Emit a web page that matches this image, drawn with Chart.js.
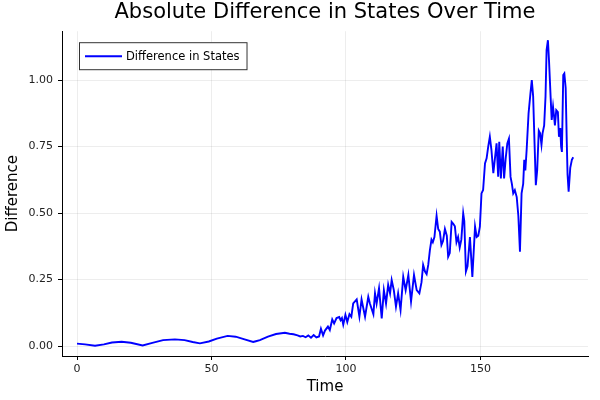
<!DOCTYPE html>
<html>
<head>
<meta charset="utf-8">
<script src="https://cdn.jsdelivr.net/npm/chart.js@4"></script>
<style>
  html, body { margin: 0; padding: 0; background: #fff; }
  #wrap { width: 600px; height: 400px; }
</style>
</head>
<body>
<div id="wrap"><canvas id="diffChart" width="600" height="400"></canvas></div>
<script>
const timeValues = [
    0, 3, 6.7, 10, 13, 16.6, 20, 24.4, 28, 32, 36.4, 40, 43, 45.7, 49, 52, 56, 59, 62, 65.5,
    66.5, 68, 71, 74, 77.3, 79, 80.5, 82, 83, 84, 85, 86, 87, 88, 89, 90, 90.7, 91.5, 92.2, 93.3,
    94, 94.9, 95.6, 96.5, 97.5, 98, 98.5, 99, 99.8, 100.5, 101.3, 102, 102.7, 104, 105, 105.8, 107.1, 108.3, 108.9, 110.2,
    110.8, 111.4, 112.3, 113.3, 114.1, 114.9, 115.7, 116.4, 117, 117.8, 118.6, 119.4, 120.3, 121.3, 122.2, 123.2, 124.2, 125.3, 126.3, 127.3,
    128.1, 128.7, 129.4, 130, 130.6, 131.2, 131.8, 132.3, 132.9, 133.7, 134.3, 134.9, 135.5, 136.1, 136.8, 137.5, 138, 138.6, 139.3, 139.9,
    140.5, 141.1, 141.7, 142.3, 142.9, 143.6, 144, 144.6, 145.2, 146.1, 147, 148, 148.6, 149.2, 149.8, 150.4, 151, 151.7, 152.3, 152.9,
    153.5, 154.1, 154.8, 155.4, 156, 156.6, 157, 157.6, 158.3, 158.8, 159.4, 160, 160.6, 161.2, 161.7, 162.2, 162.8, 163.5, 164.1, 164.7,
    165.3, 165.9, 166.3, 166.7, 167.2, 167.9, 168.6, 169.1, 169.6, 170.1, 170.6, 171.1, 171.7, 172.2, 172.7, 173.1, 173.7, 174.2, 174.6, 175.1,
    175.5, 176.1, 176.5, 177, 177.4, 177.7, 178.2, 178.8, 179.2, 179.7, 180, 180.3, 180.8, 181.2, 181.7, 182.1, 182.4, 182.8, 183.4, 184,
    184.5
];
const diffValues = [
    0.009, 0.006, 0.001, 0.006, 0.013, 0.016, 0.012, 0.002, 0.012, 0.022, 0.025, 0.022, 0.015, 0.010, 0.017, 0.028, 0.038, 0.035, 0.026, 0.015,
    0.018, 0.022, 0.035, 0.045, 0.050, 0.046, 0.044, 0.040, 0.036, 0.038, 0.033, 0.040, 0.031, 0.041, 0.032, 0.036, 0.065, 0.040, 0.058, 0.073,
    0.060, 0.100, 0.085, 0.105, 0.109, 0.097, 0.105, 0.080, 0.117, 0.090, 0.120, 0.110, 0.160, 0.175, 0.110, 0.175, 0.110, 0.185, 0.160, 0.120,
    0.198, 0.160, 0.217, 0.104, 0.210, 0.160, 0.230, 0.198, 0.248, 0.210, 0.148, 0.198, 0.135, 0.260, 0.210, 0.267, 0.167, 0.267, 0.210, 0.198,
    0.240, 0.305, 0.280, 0.270, 0.305, 0.360, 0.400, 0.390, 0.410, 0.490, 0.440, 0.430, 0.380, 0.395, 0.440, 0.415, 0.336, 0.350, 0.467, 0.460,
    0.450, 0.390, 0.410, 0.370, 0.400, 0.499, 0.470, 0.280, 0.300, 0.410, 0.260, 0.449, 0.410, 0.415, 0.449, 0.574, 0.587, 0.687, 0.706, 0.750,
    0.787, 0.737, 0.650, 0.706, 0.762, 0.637, 0.768, 0.630, 0.750, 0.630, 0.706, 0.762, 0.780, 0.636, 0.610, 0.574, 0.586, 0.560, 0.490, 0.355,
    0.574, 0.610, 0.700, 0.660, 0.740, 0.875, 0.950, 1.000, 0.940, 0.770, 0.605, 0.660, 0.810, 0.800, 0.757, 0.800, 0.830, 0.937, 1.113, 1.150,
    1.075, 0.937, 0.850, 0.900, 0.862, 0.830, 0.887, 0.880, 0.787, 0.820, 0.750, 0.730, 1.019, 1.025, 0.970, 0.770, 0.645, 0.580, 0.670, 0.700,
    0.710
];
const xTicks = [0, 50, 100, 150];
const yTicks = [0, 0.25, 0.5, 0.75, 1.0];

const FONT = "'DejaVu Sans', sans-serif";

// centre the title over the plot area, not the whole canvas
const titleOverPlot = {
    id: 'titleOverPlot',
    afterLayout(chart) {
        const tb = chart.titleBlock;
        if (!tb) return;
        tb.left = chart.chartArea.left;
        tb.right = chart.chartArea.right;
        tb.width = tb.right - tb.left;
    }
};

// legend box drawn inside the plot area, top-left
const insideLegend = {
    id: 'insideLegend',
    afterDraw(chart) {
        const c = chart.ctx;
        const area = chart.chartArea;
        const ds = chart.data.datasets[0];
        c.save();
        c.font = '11.5px ' + FONT;
        const tw = c.measureText(ds.label).width;
        const x = area.left + 17, y = area.top + 11;
        const w = 46 + tw + 8, h = 27;
        c.fillStyle = '#fff';
        c.fillRect(x, y, w, h);
        c.strokeStyle = '#333';
        c.lineWidth = 1;
        c.strokeRect(x + 0.5, y + 0.5, w, h);
        c.strokeStyle = ds.borderColor;
        c.lineWidth = ds.borderWidth;
        c.beginPath();
        c.moveTo(x + 6, y + h / 2 + 0.5);
        c.lineTo(x + 43, y + h / 2 + 0.5);
        c.stroke();
        c.fillStyle = '#000';
        c.textBaseline = 'middle';
        c.fillText(ds.label, x + 47, y + h / 2 + 1);
        c.restore();
    }
};

const ctx = document.getElementById('diffChart').getContext('2d');
const chart = new Chart(ctx, {
    type: 'line',
    data: {
        datasets: [{
            label: 'Difference in States',
            data: timeValues.map((t, i) => ({ x: t, y: diffValues[i] })),
            borderColor: '#0000ff',
            borderWidth: 1.9,
            pointRadius: 0,
            fill: false,
            tension: 0
        }]
    },
    options: {
        responsive: false,
        animation: false,
        events: [],
        layout: { padding: { left: 0, right: 12, top: 0, bottom: 0 } },
        plugins: {
            legend: { display: false },
            tooltip: { enabled: false },
            title: {
                display: true,
                text: 'Absolute Difference in States Over Time',
                color: '#000',
                font: { family: FONT, size: 21, weight: 'normal' },
                padding: { top: 0, bottom: 6 }
            }
        },
        scales: {
            x: {
                type: 'linear',
                min: -5.58,
                max: 190,
                afterFit: s => { s.height = 44; },
                afterBuildTicks: s => { s.ticks = xTicks.map(v => ({ value: v })); },
                grid: { color: 'rgba(0,0,0,0.07)', tickColor: '#000', tickLength: 4 },
                border: { color: '#000', width: 1 },
                ticks: {
                    color: '#222',
                    font: { family: FONT, size: 11 },
                    padding: 3,
                    maxRotation: 0
                },
                title: {
                    display: true,
                    text: 'Time',
                    color: '#000',
                    font: { family: FONT, size: 15 },
                    padding: { top: 0, bottom: 4 }
                }
            },
            y: {
                min: -0.0376,
                max: 1.184,
                afterFit: s => { s.width = 62; },
                afterBuildTicks: s => { s.ticks = yTicks.map(v => ({ value: v })); },
                grid: { color: 'rgba(0,0,0,0.07)', tickColor: '#000', tickLength: 4 },
                border: { color: '#000', width: 1 },
                ticks: {
                    color: '#222',
                    font: { family: FONT, size: 11 },
                    padding: 5,
                    callback: v => v.toFixed(2)
                },
                title: {
                    display: true,
                    text: 'Difference',
                    color: '#000',
                    font: { family: FONT, size: 15 },
                    padding: { top: 4, bottom: 0 }
                }
            }
        }
    },
    plugins: [titleOverPlot, insideLegend]
});
</script>
</body>
</html>
